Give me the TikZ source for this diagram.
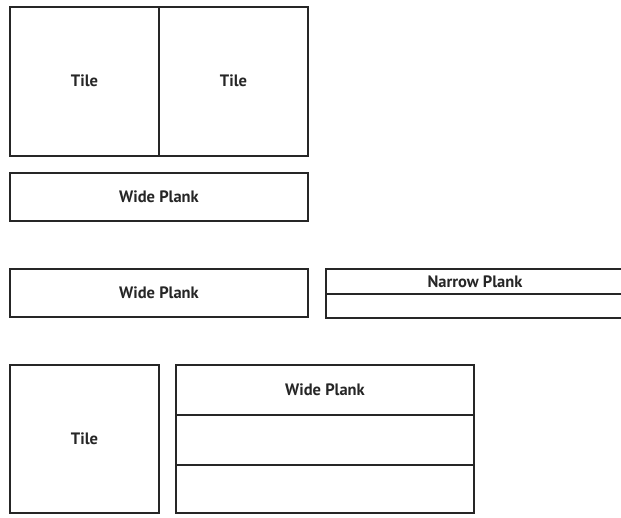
\documentclass[tikz,border=0pt]{standalone}
\usepackage{fontspec}
\setmainfont{PT Sans}
\tikzset{
  box/.style={draw=black!85, line width=2.2pt},
  lbl/.style={font=\bfseries\fontsize{16.5}{19}\selectfont, text=black!85, inner sep=0pt}
}
\begin{document}
\begin{tikzpicture}[x=1pt,y=-1pt]
\useasboundingbox (0,0) rectangle (621,517);
% top tiles
\draw[box] (10,7) rectangle (308,156);
\draw[box] (159,7) -- (159,156);
\node[lbl] (t1) at (84.5,81) {Tile};
\node[lbl] (t2) at (233.5,81) {Tile};
% wide plank 1
\draw[box] (10,173) rectangle (308,221);
\node[lbl] (w1) at (159,197) {Wide Plank};
% row 2
\draw[box] (10,269) rectangle (308,317);
\node[lbl] (w2) at (159,293) {Wide Plank};
\begin{scope}
\clip (0,0) rectangle (621,517);
\draw[box] (326,269) rectangle (640,318);
\draw[box] (326,294) -- (640,294);
\end{scope}
\node[lbl] (n1) at (475,281.5) {Narrow Plank};
% row 3
\draw[box] (10,365) rectangle (159,513);
\node[lbl] (t3) at (84.5,439) {Tile};
\draw[box] (176,365) rectangle (474,513);
\draw[box] (176,415) -- (474,415);
\draw[box] (176,465) -- (474,465);
\node[lbl] (w3) at (325,390) {Wide Plank};
\end{tikzpicture}
\end{document}
